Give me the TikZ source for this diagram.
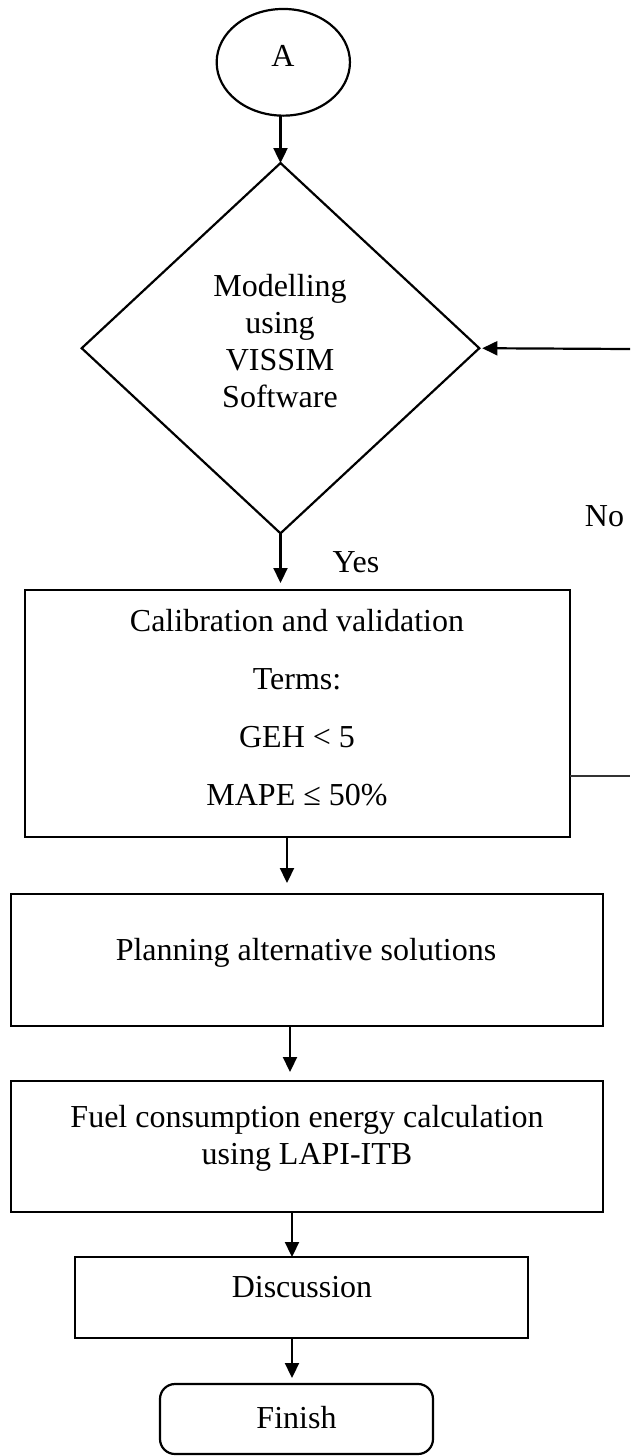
\documentclass[tikz,border=0pt]{standalone}
\usepackage{fontspec}
\setmainfont{Liberation Serif}
\usetikzlibrary{arrows.meta,shapes.geometric}
\tikzset{
  shapeline/.style={draw, line width=2.2pt, inner sep=0pt, outer sep=0pt},
  boxnode/.style={shapeline, rectangle},
  txt/.style={font=\fontsize{32}{36.7}\selectfont, align=center, inner sep=0pt},
  wide/.style={font=\fontsize{32}{58}\selectfont, align=center, inner sep=0pt},
  arr/.style={line width=2.2pt, -{Triangle[length=15pt,width=14pt]}},
  thinline/.style={line width=1.2pt, draw=black!80},
}
\begin{document}
\begin{tikzpicture}[x=1pt,y=-1pt]
\useasboundingbox (0,0) rectangle (630,1456);

% shapes
\node[shapeline, ellipse, minimum width=133.3pt, minimum height=106.7pt] (A) at (283.3,62.3) {};
\node[txt] (Atext) at (283,56) {A};

\node[shapeline, diamond, minimum width=397.6pt, minimum height=370.3pt] (dia) at (280.5,348.2) {};
\node[txt] (diatext) at (280,341) {Modelling\\using\\VISSIM\\Software};

\node[boxnode, minimum width=545pt, minimum height=247pt] (cal) at (297.5,713.5) {};
\node[wide] (caltext) at (297,708) {Calibration and validation\\Terms:\\GEH < 5\\MAPE ≤ 50\%};

\node[boxnode, minimum width=592pt, minimum height=132pt] (plan) at (307,960) {};
\node[txt] (plantext) at (306,952.5) {Planning alternative solutions};

\node[boxnode, minimum width=592pt, minimum height=131pt] (fuel) at (307,1146.5) {};
\node[txt] (fueltext) at (307,1138) {Fuel consumption energy calculation\\using LAPI-ITB};

\node[boxnode, minimum width=453pt, minimum height=81pt] (disc) at (301.5,1297.5) {};
\node[txt] (disctext) at (302,1287) {Discussion};

\node[boxnode, rounded corners=15pt, minimum width=273pt, minimum height=70pt] (fin) at (296.5,1419) {};
\node[txt] (fintext) at (296.5,1417.5) {Finish};

% labels
\node[txt] (yes) at (356,562.5) {Yes};
\node[txt] (no) at (604.5,516) {No};

% free ends on the right
\coordinate (fbR) at (630,349);
\coordinate (fbC) at (630,776);

% connectors
\draw[arr] (A.south -| dia.north) -- (dia.north);
\draw[arr, shorten >=7pt] (dia.south) -- (dia.south |- cal.north);
\draw[arr, shorten >=11pt] ([xshift=-10.5pt]cal.south) -- ([xshift=-10.5pt]cal.south |- plan.north);
\draw[arr, shorten >=9pt] ([xshift=-17pt]plan.south) -- ([xshift=-17pt]plan.south |- fuel.north);
\draw[arr] ([xshift=-15pt]fuel.south) -- ([xshift=-15pt]fuel.south |- disc.north);
\draw[arr, shorten >=6pt] ([xshift=-9.5pt]disc.south) -- ([xshift=-9.5pt]disc.south |- fin.north);
\draw[arr, shorten >=3pt] (fbR) -- (dia.east);
\draw[thinline] (cal.east |- fbC) -- (fbC);
\end{tikzpicture}
\end{document}
